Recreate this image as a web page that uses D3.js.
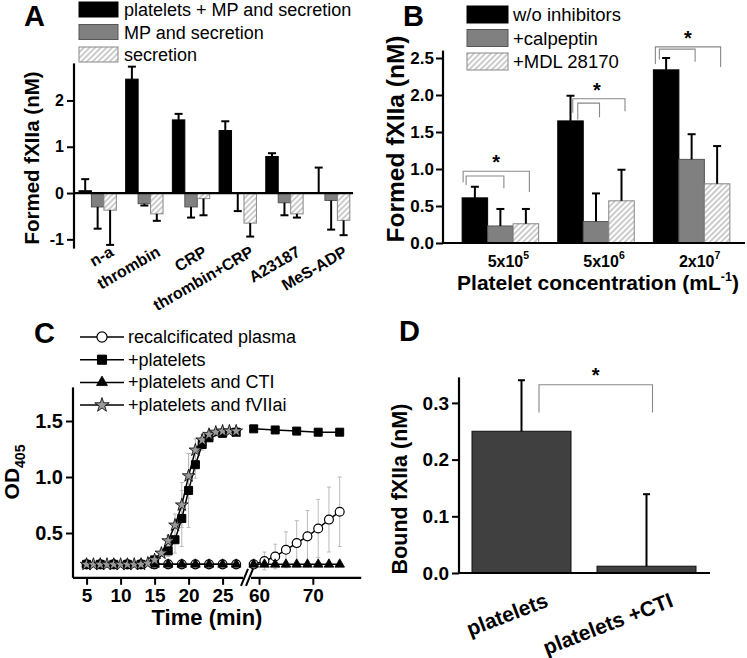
<!DOCTYPE html>
<html><head><meta charset="utf-8">
<script src="https://cdn.jsdelivr.net/npm/d3@7"></script>
<style>body{margin:0;background:#fff} svg{display:block} text{font-family:"Liberation Sans",Arial,Helvetica,sans-serif;fill:#000}</style>
</head><body><svg id="c" width="747" height="658"></svg>
<script>
// ---------- Panel A data ----------
const catsA = ["n-a","thrombin","CRP","thrombin+CRP","A23187","MeS-ADP"];
const seriesA = ["platelets + MP and secretion","MP and secretion","secretion"];
const aPlateletsMP    = [0.05, 2.46, 1.58, 1.35, 0.79, 0.00];
const aPlateletsMPErr = [0.25, 0.27, 0.13, 0.20, 0.07, 0.55];
const aMP             = [-0.30,-0.23,-0.30,-0.01,-0.21,-0.16];
const aMPErr          = [0.47, 0.04, 0.23, 0.38, 0.27, 0.63];
const aSecretion      = [-0.37,-0.45,-0.12,-0.65,-0.45,-0.59];
const aSecretionErr   = [0.75, 0.15, 0.36, 0.29, 0.08, 0.32];
const aTicks = [-1,0,1,2];

// ---------- Panel B data ----------
const catsBBase = ["5x10","5x10","2x10"];
const catsBExp  = ["5","6","7"];
const seriesB = ["w/o inhibitors","+calpeptin","+MDL 28170"];
const bNone     = [0.61, 1.65, 2.34];
const bNoneErr  = [0.15, 0.34, 0.16];
const bCalp     = [0.23, 0.29, 1.13];
const bCalpErr  = [0.23, 0.38, 0.34];
const bMDL      = [0.26, 0.57, 0.80];
const bMDLErr   = [0.20, 0.42, 0.51];
const bTicks = [0,0.5,1,1.5,2,2.5];
// significance brackets (nM levels): outer / inner bar heights, leg ends
const bBrOuter = [0.97, 1.95, 2.65];
const bBrInner = [0.905, 1.89, 2.62];
const bLegOuterR = [0.69, 1.78, 2.38];
const bLegInnerR = [0.74, 1.70, 2.45];
const bLegOuterL = [0.82, 1.76, 2.42];
const bLegInnerL = [0.78, 1.67, 2.48];

// ---------- Panel C data ----------
const cSeries = ["recalcificated plasma","+platelets","+platelets and CTI","+platelets and fVIIai"];
const cPlasmaTL = [5,7,9,11,13,15,17,19,21,23,25,27];
const cPlasmaL  = [0.22,0.22,0.22,0.22,0.22,0.22,0.22,0.22,0.22,0.22,0.22,0.22];
const cPlasmaTR = [59,61,63,65,67,69,71,73,75];
const cPlasmaR  = [0.22,0.25,0.29,0.35,0.41,0.47,0.54,0.62,0.69];
const cPlasmaRErr = [0,0.08,0.11,0.16,0.20,0.23,0.26,0.29,0.31];
const cCtiTL = [5,7,9,11,13,15,17,19,21,23,25,27];
const cCtiL  = [0.22,0.22,0.22,0.22,0.22,0.22,0.22,0.22,0.22,0.22,0.22,0.22];
const cCtiTR = [59,61,63,65,67,69,71,73,75];
const cCtiR  = [0.22,0.22,0.22,0.22,0.22,0.22,0.22,0.22,0.22];
const cPltTL = [5,7,9,11,13,15,17,18,19,20,21,22,23,25,27];
const cPltL  = [0.22,0.22,0.22,0.22,0.22,0.26,0.34,0.44,0.63,0.88,1.11,1.29,1.35,1.39,1.40];
const cPltLErr = [0,0,0,0,0,0.02,0.05,0.12,0.25,0.33,0.12,0.05,0.03,0.02,0.02];
const cPltTR = [59,63,67,71,75];
const cPltR  = [1.43,1.42,1.41,1.40,1.40];
const cF7TL = [5,6,7,8,9,10,11,12,13,14,15,16,17,18,19,20,21,22,23,24,25,26,27];
const cF7L  = [0.22,0.22,0.22,0.22,0.22,0.22,0.22,0.22,0.22,0.23,0.26,0.32,0.43,0.57,0.75,1.01,1.24,1.33,1.38,1.40,1.41,1.41,1.41];
const cF7LErr = [0,0,0,0,0,0,0,0,0,0,0.02,0.03,0.05,0.10,0.20,0.20,0.10,0.05,0.03,0.02,0.02,0.02,0.02];
const cYTicks = [0.5,1.0,1.5];
const cXTicksL = [5,10,15,20,25];
const cXTicksR = [60,70];

// ---------- Panel D data ----------
const catsD = ["platelets","platelets +CTI"];
const dVals = [0.25, 0.012];
const dErr  = [0.09, 0.127];
const dTicks = [0,0.1,0.2,0.3];

const svg = d3.select("#c");
svg.append("rect").attr("width",747).attr("height",658).attr("fill","#fff");
const defs = svg.append("defs");
const pat = defs.append("pattern").attr("id","hatch").attr("patternUnits","userSpaceOnUse")
  .attr("width",4).attr("height",4).attr("patternTransform","rotate(45)");
pat.append("rect").attr("width",4).attr("height",4).attr("fill","#fff");
pat.append("line").attr("x1",1).attr("y1",0).attr("x2",1).attr("y2",4).attr("stroke","#999").attr("stroke-width",1);

const FILLS = ["#000","#808080","url(#hatch)"];
const STROKES = ["#000","#555","#888"];

function errBar(g, x, y0, y1, cap, color, w){
  g.append("line").attr("x1",x).attr("x2",x).attr("y1",y0).attr("y2",y1).attr("stroke",color).attr("stroke-width",w);
  g.append("line").attr("x1",x-cap/2).attr("x2",x+cap/2).attr("y1",y1).attr("y2",y1).attr("stroke",color).attr("stroke-width",w);
}
function yAxis(g, scale, x, majors, minors, fmt, fs, majLen, minLen, pad){
  const ax = g.append("g").attr("transform",`translate(${x},0)`);
  ax.call(d3.axisLeft(scale).tickValues(minors).tickSize(minLen).tickFormat(""));
  ax.call(d3.axisLeft(scale).tickValues(majors).tickSize(majLen).tickPadding(pad).tickFormat(fmt));
  ax.selectAll("path.domain").attr("stroke","#000").attr("stroke-width",2.2).attr("d",`M0,${scale.range()[0]}V${scale.range()[1]}`);
  ax.selectAll(".tick line").attr("stroke","#000").attr("stroke-width",2);
  ax.selectAll(".tick text").attr("font-size",fs).attr("font-weight","bold")
    .attr("font-family",'"Liberation Sans",Arial,sans-serif').attr("fill","#000");
  return ax;
}
const range = (a,b,s)=>{const r=[];for(let v=a;v<=b+1e-9;v+=s) r.push(+v.toFixed(4));return r;};

// ================= PANEL A =================
{
const g = svg.append("g");
const xA = d3.scaleBand().domain(catsA).range([74.3,354.5]).paddingInner(0.2).paddingOuter(0.1);
const xi = d3.scaleBand().domain(seriesA).range([0,xA.bandwidth()]);
const yA = d3.scaleLinear().domain([-1.2,2.8]).range([248.6,63.4]);
const vals=[aPlateletsMP,aMP,aSecretion], errs=[aPlateletsMPErr,aMPErr,aSecretionErr];
seriesA.forEach((s,si)=>{
  catsA.forEach((c,ci)=>{
    const v=vals[si][ci];
    g.append("rect").attr("x",xA(c)+xi(s)).attr("width",xi.bandwidth())
      .attr("y",Math.min(yA(0),yA(v))).attr("height",Math.abs(yA(v)-yA(0)))
      .attr("fill",FILLS[si]).attr("stroke",STROKES[si]).attr("stroke-width",1);
  });
});
seriesA.forEach((s,si)=>{
  catsA.forEach((c,ci)=>{
    const v=vals[si][ci], e=errs[si][ci];
    const cx=xA(c)+xi(s)+xi.bandwidth()/2;
    const end = v>=0 ? v+e : v-e;
    errBar(g,cx,yA(v),yA(end),8,"#000",2);
  });
});
g.append("line").attr("x1",74).attr("x2",353).attr("y1",yA(0)).attr("y2",yA(0)).attr("stroke","#000").attr("stroke-width",2.2);
yAxis(g,yA,74,aTicks,range(-1.2,2.8,0.2).filter(v=>Math.abs(v-Math.round(v))>1e-6),d=>String(d),16,7,4,3);
g.append("text").attr("transform",`translate(39,158) rotate(-90)`).attr("text-anchor","middle")
  .attr("font-size",20.5).attr("font-weight","bold").text("Formed fXIIa (nM)");
catsA.forEach(c=>{
  const cx=xA(c)+xA.bandwidth()/2;
  g.append("text").attr("transform",`translate(${cx+17},255) rotate(-30)`).attr("text-anchor","end")
   .attr("font-size",16).attr("font-weight","bold").text(c);
});
seriesA.forEach((s,i)=>{
  const y=2+i*22.5;
  g.append("rect").attr("x",79).attr("y",y).attr("width",39).attr("height",15)
   .attr("fill",FILLS[i]).attr("stroke",STROKES[i]).attr("stroke-width",1);
  g.append("text").attr("x",124).attr("y",y+14).attr("font-size",18).text(s);
});
g.append("text").attr("x",24).attr("y",26).attr("font-size",29).attr("font-weight","bold").text("A");
}

// ================= PANEL B =================
{
const g = svg.append("g");
const xB = d3.scaleBand().domain([0,1,2]).range([443,749]).paddingInner(0.2).paddingOuter(0.2);
const xi = d3.scaleBand().domain(seriesB).range([0,xB.bandwidth()]);
const yB = d3.scaleLinear().domain([0,2.6]).range([243,50.6]);
const vals=[bNone,bCalp,bMDL], errs=[bNoneErr,bCalpErr,bMDLErr];
seriesB.forEach((s,si)=>{
  [0,1,2].forEach(ci=>{
    const v=vals[si][ci];
    g.append("rect").attr("x",xB(ci)+xi(s)).attr("width",xi.bandwidth())
      .attr("y",yB(v)).attr("height",yB(0)-yB(v))
      .attr("fill",FILLS[si]).attr("stroke",STROKES[si]).attr("stroke-width",1);
  });
});
seriesB.forEach((s,si)=>{
  [0,1,2].forEach(ci=>{
    const v=vals[si][ci], e=errs[si][ci];
    errBar(g,xB(ci)+xi(s)+xi.bandwidth()/2,yB(v),yB(v+e),8,"#000",2);
  });
});
const legOff=[[1,4],[15,20],[2,6]];
[0,1,2].forEach(ci=>{
  const xL0=xB(ci)+legOff[ci][0], xL1=xB(ci)+legOff[ci][1];
  const xRo=xB(ci)+xi(seriesB[2])+xi.bandwidth()/2+3.5;
  const xRi=xB(ci)+xi(seriesB[1])+xi.bandwidth()/2+3.5;
  const p1=`M${xL0},${yB(bLegOuterL[ci])}V${yB(bBrOuter[ci])}H${xRo}V${yB(bLegOuterR[ci])}`;
  const p2=`M${xL1},${yB(bLegInnerL[ci])}V${yB(bBrInner[ci])}H${xRi}V${yB(bLegInnerR[ci])}`;
  g.append("path").attr("d",p1).attr("fill","none").attr("stroke","#888").attr("stroke-width",1.1);
  g.append("path").attr("d",p2).attr("fill","none").attr("stroke","#888").attr("stroke-width",1.1);
  g.append("text").attr("x",(xL0+xRo)/2+ (ci==1?-2:0)).attr("y",yB(bBrOuter[ci])-2).attr("text-anchor","middle")
    .attr("font-size",20).attr("font-weight","bold").text("*");
});
g.append("line").attr("x1",443).attr("x2",745).attr("y1",yB(0)).attr("y2",yB(0)).attr("stroke","#000").attr("stroke-width",2.2);
yAxis(g,yB,443,bTicks,range(0.25,2.5,0.5),d3.format(".1f"),17,7,4,2);
g.append("text").attr("transform",`translate(404,139) rotate(-90)`).attr("text-anchor","middle")
  .attr("font-size",24.5).attr("font-weight","bold").text("Formed fXIIa (nM)");
[0,1,2].forEach(ci=>{
  const t=g.append("text").attr("x",xB(ci)+xB.bandwidth()/2+8).attr("y",267).attr("text-anchor","middle")
    .attr("font-size",16).attr("font-weight","bold");
  t.append("tspan").text(catsBBase[ci]);
  t.append("tspan").attr("dy",-8).attr("font-size",10.5).text(catsBExp[ci]);
});
const xt=g.append("text").attr("x",598).attr("y",290).attr("text-anchor","middle").attr("font-size",21).attr("font-weight","bold");
xt.append("tspan").text("Platelet concentration (mL");
xt.append("tspan").attr("dy",-9).attr("font-size",12.5).text("-1");
xt.append("tspan").attr("dy",9).text(")");
seriesB.forEach((s,i)=>{
  const y=6+i*23.5;
  g.append("rect").attr("x",467).attr("y",y).attr("width",41).attr("height",17)
   .attr("fill",FILLS[i]).attr("stroke",STROKES[i]).attr("stroke-width",1);
  g.append("text").attr("x",513).attr("y",y+15).attr("font-size",18.5).text(s);
});
g.append("text").attr("x",403).attr("y",26).attr("font-size",29).attr("font-weight","bold").text("B");
}

// ================= PANEL C =================
{
const g = svg.append("g");
const xL = d3.scaleLinear().domain([3,28]).range([73,243]);
const xR = d3.scaleLinear().domain([58.5,79]).range([251,361.2]);
const yC = d3.scaleLinear().domain([0.1,1.8]).range([577.8,387.4]);
const line = (xs)=>d3.line().x(d=>xs(d[0])).y(d=>yC(d[1]));
const zip=(a,b)=>a.map((t,i)=>[t,b[i]]);
function errs(xs,ts,vs,es){ts.forEach((t,i)=>{ if(es[i]>0){
  g.append("line").attr("x1",xs(t)).attr("x2",xs(t)).attr("y1",yC(vs[i]-es[i])).attr("y2",yC(vs[i]+es[i])).attr("stroke","#bbb").attr("stroke-width",1);
  [vs[i]-es[i],vs[i]+es[i]].forEach(v=>g.append("line").attr("x1",xs(t)-2).attr("x2",xs(t)+2).attr("y1",yC(v)).attr("y2",yC(v)).attr("stroke","#bbb").attr("stroke-width",1));
}});}
errs(xR,cPlasmaTR,cPlasmaR,cPlasmaRErr);
errs(xL,cPltTL,cPltL,cPltLErr);
errs(xL,cF7TL,cF7L,cF7LErr);
const SYM = {
  circ: {type:d3.symbolCircle,size:62,fill:"#fff",stroke:"#000",sw:1.2},
  sq:   {type:d3.symbolSquare,size:64,fill:"#000",stroke:"#000",sw:1},
  tri:  {type:d3.symbolTriangle,size:40,fill:"#000",stroke:"#000",sw:0.8},
  star: {type:d3.symbolStar,size:50,fill:"#999",stroke:"#000",sw:0.8}
};
function series(xs,ts,vs,sym){
  g.append("path").attr("d",line(xs)(zip(ts,vs))).attr("fill","none").attr("stroke","#000").attr("stroke-width",1.5);
  const S=SYM[sym];
  ts.forEach((t,i)=>g.append("path").attr("d",d3.symbol().type(S.type).size(S.size)())
    .attr("transform",`translate(${xs(t)},${yC(vs[i])})`).attr("fill",S.fill).attr("stroke",S.stroke).attr("stroke-width",S.sw));
}
series(xL,cPlasmaTL,cPlasmaL,"circ");
series(xR,cPlasmaTR,cPlasmaR,"circ");
series(xL,cCtiTL,cCtiL,"tri");
series(xR,cCtiTR,cCtiR,"tri");
series(xL,cPltTL,cPltL,"sq");
series(xR,cPltTR,cPltR,"sq");
series(xL,cF7TL,cF7L,"star");
yAxis(g,yC,73,cYTicks,range(0.2,1.8,0.1).filter(v=>!cYTicks.some(t=>Math.abs(t-v)<1e-6)),d3.format(".1f"),20,7,4,3);
function xAxisPart(xs,majors,minors,d0,d1){
  const ax=g.append("g").attr("transform",`translate(0,${yC(0.1)})`);
  ax.call(d3.axisBottom(xs).tickValues(minors).tickSize(4).tickFormat(""));
  ax.call(d3.axisBottom(xs).tickValues(majors).tickSize(7).tickPadding(4).tickFormat(d=>String(d)));
  ax.selectAll("path.domain").attr("stroke","#000").attr("stroke-width",2.2).attr("d",`M${xs(d0)},0H${xs(d1)}`);
  ax.selectAll(".tick line").attr("stroke","#000").attr("stroke-width",2);
  ax.selectAll(".tick text").attr("font-size",19).attr("font-weight","bold").attr("font-family",'"Liberation Sans",Arial,sans-serif').attr("fill","#000");
}
xAxisPart(xL,cXTicksL,range(4,27,1).filter(v=>v%5),3,28);
xAxisPart(xR,cXTicksR,range(59,78,1).filter(v=>v%10),58.5,79);
const yb=yC(0.1);
[0,5].forEach(o=>g.append("line").attr("x1",241+o).attr("x2",248+o).attr("y1",yb+8).attr("y2",yb-9).attr("stroke","#000").attr("stroke-width",2));
g.append("text").attr("x",207).attr("y",625).attr("text-anchor","middle").attr("font-size",22).attr("font-weight","bold").text("Time (min)");
const yt=g.append("text").attr("transform",`translate(19,472) rotate(-90)`).attr("text-anchor","middle").attr("font-size",21).attr("font-weight","bold");
yt.append("tspan").text("OD");
yt.append("tspan").attr("dy",6).attr("font-size",14).text("405");
const legSym=["circ","sq","tri","star"];
cSeries.forEach((s,i)=>{
  const y=337+i*22.7;
  g.append("line").attr("x1",80).attr("x2",124).attr("y1",y).attr("y2",y).attr("stroke","#000").attr("stroke-width",1.5);
  const S=SYM[legSym[i]];
  g.append("path").attr("d",d3.symbol().type(S.type).size(S.size*1.3)()).attr("transform",`translate(102,${y})`)
    .attr("fill",S.fill).attr("stroke",S.stroke).attr("stroke-width",S.sw);
  g.append("text").attr("x",128).attr("y",y+6).attr("font-size",18).text(s);
});
g.append("text").attr("x",34).attr("y",343).attr("font-size",29).attr("font-weight","bold").text("C");
}

// ================= PANEL D =================
{
const g = svg.append("g");
const xD = d3.scaleBand().domain(catsD).range([459,709]).paddingInner(0.208).paddingOuter(0.104);
const yD = d3.scaleLinear().domain([0,0.345]).range([573,377.4]);
catsD.forEach((c,i)=>{
  g.append("rect").attr("x",xD(c)).attr("width",xD.bandwidth()).attr("y",yD(dVals[i])).attr("height",yD(0)-yD(dVals[i]))
   .attr("fill","#404040").attr("stroke","#111").attr("stroke-width",1);
});
catsD.forEach((c,i)=>errBar(g,xD(c)+xD.bandwidth()/2,yD(dVals[i]),yD(dVals[i]+dErr[i]),7,"#000",2));
const bx0=xD(catsD[0])+xD.bandwidth()-32, bx1=xD(catsD[1])+xD.bandwidth()/2+6;
g.append("path").attr("d",`M${bx0},${yD(0.283)}V${yD(0.332)}H${bx1}V${yD(0.283)}`).attr("fill","none").attr("stroke","#888").attr("stroke-width",1.1);
g.append("text").attr("x",(bx0+bx1)/2).attr("y",yD(0.332)-3).attr("text-anchor","middle").attr("font-size",20).attr("font-weight","bold").text("*");
g.append("line").attr("x1",459).attr("x2",710).attr("y1",yD(0)).attr("y2",yD(0)).attr("stroke","#000").attr("stroke-width",2.2);
yAxis(g,yD,459,dTicks,range(0.02,0.34,0.02).filter(v=>!dTicks.some(t=>Math.abs(t-v)<1e-6)),d3.format(".1f"),19,7,4,3);
g.append("text").attr("transform",`translate(407,489) rotate(-90)`).attr("text-anchor","middle")
  .attr("font-size",21.5).attr("font-weight","bold").text("Bound fXIIa (nM)");
catsD.forEach(c=>{
  g.append("text").attr("transform",`translate(${xD(c)+xD.bandwidth()/2+28},606) rotate(-21)`).attr("text-anchor","end")
   .attr("font-size",21).attr("font-weight","bold").text(c);
});
g.append("text").attr("x",399).attr("y",341).attr("font-size",29).attr("font-weight","bold").text("D");
}
</script></body></html>
